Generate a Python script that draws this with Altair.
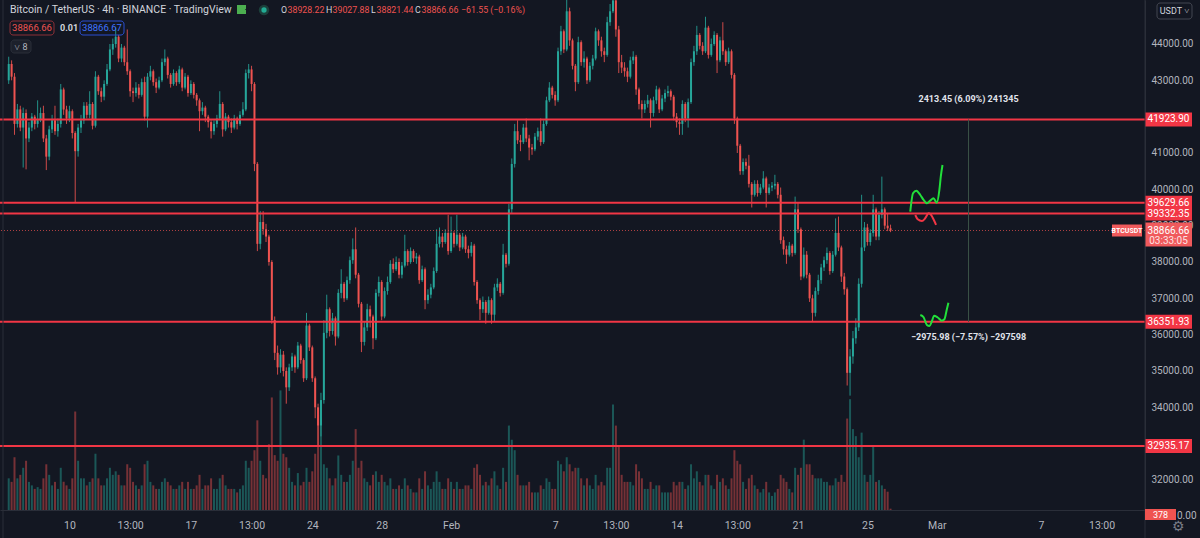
import altair as alt
import numpy as np
import pandas as pd

BG = "#131722"
UP = "#26a69a"
DOWN = "#ef5350"
LEVEL = "#f23645"
AXIS_TXT = "#b2b5be"
TXT = "#d1d4dc"
DIV = "#2a2e39"
FONT = "Roboto"

# ---------------- data (4h candles, BTCUSDT, Jan 6 12:00 -> Feb 26) ----------------
first_open = 43000
closes = [
    43450, 43100, 41800, 42200, 41700, 42100, 41400, 41700, 42000, 41800,
    41900, 42100, 41400, 40900, 41650, 41900, 41600, 41800, 42750, 42200,
    41950, 42150, 41550, 41050, 41700, 41900, 42300, 42050, 42350, 41750,
    43100, 42700, 42550, 42900, 43300, 43850, 44000, 44200, 43600, 43900,
    43500, 43250, 42700, 42650, 42800, 42600, 42950, 42000, 43100, 43250,
    42950, 42800, 43000, 43500, 43600, 43150, 42900, 43200, 42950, 43300,
    42800, 43100, 42650, 42900, 42600, 42450, 42150, 42250, 42000, 41850,
    41600, 41800, 41950, 42350, 41650, 42000, 41850, 41700, 41950, 41800,
    42050, 42200, 43200, 43300, 42900, 40700, 38500, 39100, 38900, 38700,
    38000, 36400, 35500, 35100, 35450, 35000, 34550, 35100, 35400, 35100,
    35700, 35300, 34800, 36250, 35650, 34800, 34000, 33500, 34200, 36050,
    36700, 36100, 36450, 35950, 37150, 37400, 37000, 37500, 38050, 38350,
    37650, 36850, 35800, 36200, 36700, 36500, 35900, 37150, 37450, 36500,
    37200, 37450, 37950, 37800, 38000, 37650, 37900, 38300, 38000, 38300,
    38100, 38150, 37500, 37800, 36950, 37100, 37300, 37750, 38500, 38700,
    38550, 38800, 38300, 38800, 38500, 38750, 38400, 38700, 38350, 38250,
    38450, 37450, 36950, 36700, 36900, 36600, 36950, 36550, 37300, 37400,
    37150, 38200, 37950, 39450, 40700, 41600, 41350, 41300, 41700, 41400,
    41150, 41100, 41450, 41600, 41300, 41800, 42450, 42800, 42600, 42450,
    43800, 44350, 43850, 44900, 44100, 43400, 42950, 44050, 43500, 43600,
    43000, 43400, 43600, 44350, 44100, 43800, 43700, 44600, 44900, 45200,
    44400, 43500, 43350, 43250, 43100, 43550, 43650, 42750, 42350, 42200,
    42350, 42450, 42100, 42450, 42750, 42200, 42500, 42650, 42700, 42550,
    42000, 41850, 41800, 42350, 41950, 42400, 43500, 43800, 44250, 43950,
    43800, 44450, 43700, 44000, 44250, 43550, 44100, 43800, 43500, 43800,
    43150, 41950, 41200, 40500, 40750, 40650, 40150, 39850, 40150, 39900,
    40050, 40300, 39900, 40050, 40100, 40150, 39850, 38600, 38350, 38200,
    38450, 38250, 39450, 38900, 37600, 38200, 37650, 37000, 36600, 37200,
    37500, 37850, 38050, 38250, 37750, 38200, 38800, 38400, 37600, 37250,
    34950, 35400, 35900, 36200, 37400, 38400, 38950, 38550, 38800, 39450,
    38700, 39300, 39450, 39000, 38928.22, 38866.66,
]
highs = [
    43650, 43550, 43200, 42350, 42300, 42250, 42200, 41850, 42100, 42050,
    42450, 42250, 42300, 41500, 41750, 42050, 42300, 41950, 42900, 42800,
    42300, 42300, 42200, 41600, 41800, 42050, 42400, 42400, 42700, 42400,
    43250, 43150, 42800, 43000, 43450, 44000, 44150, 44450, 44250, 44000,
    43950, 44400, 43300, 42800, 42950, 42900, 43050, 43100, 43200, 43400,
    43300, 43050, 43100, 43600, 43850, 43650, 43200, 43300, 43250, 43400,
    43350, 43200, 43150, 43000, 42950, 42650, 42500, 42400, 42300, 42050,
    41900, 41900, 42050, 42700, 42400, 42100, 42050, 41950, 42050, 42000,
    42150, 42400, 43300, 43450, 43400, 42950, 40750, 39400, 39400, 39050,
    38750, 38050, 36500, 35700, 35600, 35550, 35100, 35200, 35500, 35450,
    35800, 35750, 35350, 36600, 36300, 35700, 34850, 34100, 34400, 36400,
    37100, 36750, 36600, 36500, 37250, 37800, 37450, 37600, 38150, 38650,
    38950, 37700, 36900, 36350, 36850, 36800, 36550, 37250, 37600, 37500,
    37300, 37600, 38050, 38100, 38150, 38100, 38000, 38750, 38350, 38400,
    38350, 38250, 38200, 37900, 37850, 37250, 37400, 37850, 38900, 38950,
    38800, 38900, 39300, 39250, 38850, 39300, 38800, 38800, 38750, 38450,
    38550, 38500, 37500, 37000, 37050, 36950, 37050, 37000, 37400, 37550,
    37450, 38500, 38250, 39600, 40850, 41800, 41900, 41500, 41800, 41950,
    41500, 41250, 41550, 41700, 41950, 41900, 42550, 42950, 42850, 42700,
    43900, 44500, 44400, 45400, 45000, 44150, 43450, 44200, 44100, 43800,
    43650, 43500, 43700, 44450, 44400, 44200, 43900, 44750, 45100, 45800,
    45850, 44500, 43700, 43500, 43350, 43650, 43800, 43700, 42800, 42450,
    42450, 42600, 42500, 42550, 42850, 42800, 42600, 42750, 42850, 42750,
    42600, 42100, 41950, 42450, 42400, 42500, 43600, 43950, 44500, 44300,
    44050, 44750, 44500, 44150, 44350, 44300, 44200, 44600, 43850, 43900,
    43850, 43200, 42000, 41250, 40850, 40850, 40950, 40200, 40250, 40250,
    40150, 40500, 40350, 40150, 40200, 40400, 40200, 40050, 38700, 38450,
    38550, 38500, 39800, 39650, 38950, 38400, 38300, 37700, 37100, 37300,
    37650, 37950, 38150, 38400, 38300, 38300, 39200, 39250, 38450, 37700,
    37300, 35600, 36100, 36450, 37550, 39850, 39100, 39050, 38900, 39850,
    39500, 39400, 40350, 39500, 39350, 39027.88,
]
lows = [
    42900, 43000, 41500, 41700, 41600, 40600, 40550, 41300, 41600, 41650,
    41700, 41850, 41300, 40530, 40800, 41550, 41500, 41450, 41700, 42050,
    41800, 41850, 41400, 39650, 40900, 41550, 41800, 41950, 41950, 41650,
    41700, 42600, 42400, 42450, 42850, 43250, 43700, 43900, 43500, 43500,
    43400, 43150, 42550, 42400, 42550, 42500, 42550, 41900, 41700, 43000,
    42850, 42650, 42750, 42950, 43400, 43050, 42800, 42850, 42850, 42900,
    42700, 42750, 42550, 42600, 42500, 42300, 41600, 42050, 41850, 41700,
    41400, 41500, 41700, 41900, 41450, 41600, 41700, 41550, 41650, 41650,
    41750, 42000, 42150, 43050, 42700, 40500, 38300, 38350, 38750, 38550,
    37900, 36300, 35300, 34900, 34950, 34850, 34100, 34450, 35000, 34950,
    35050, 35200, 34700, 34750, 35550, 34700, 33700, 32935, 33200, 34100,
    35900, 35950, 36000, 35700, 35900, 37000, 36900, 36950, 37400, 37950,
    37550, 36750, 35520, 35700, 36100, 36200, 35600, 35850, 37050, 36400,
    36450, 37100, 37400, 37700, 37750, 37550, 37550, 37850, 37900, 37950,
    38000, 37950, 37400, 37450, 36700, 36850, 37000, 37250, 37700, 38400,
    38400, 38500, 38200, 38250, 38400, 38450, 38300, 38350, 38250, 38100,
    38150, 37350, 36850, 36400, 36600, 36300, 36550, 36300, 36350, 37200,
    37050, 37100, 37850, 37900, 39350, 40600, 41250, 41050, 41250, 41300,
    40800, 40950, 41050, 41350, 41200, 41250, 41750, 42400, 42500, 42300,
    42400, 43700, 43750, 43800, 43950, 43300, 42700, 42900, 43400, 43350,
    42900, 42950, 43300, 43550, 43950, 43650, 43500, 43650, 44500, 44850,
    44200, 43200, 43200, 43100, 42950, 43050, 43450, 42600, 42200, 41950,
    42100, 42250, 41700, 42000, 42350, 42100, 42150, 42400, 42550, 42450,
    41900, 41700, 41500, 41500, 41850, 41700, 42350, 43400, 43700, 43850,
    43700, 43750, 43600, 43650, 43950, 43200, 43500, 43700, 43400, 43450,
    43050, 41800, 41000, 40400, 40400, 40550, 40050, 39500, 39800, 39800,
    39850, 40000, 39500, 39850, 39950, 40000, 39750, 38500, 38200, 37950,
    38150, 38150, 38200, 38800, 37500, 37550, 37550, 36900, 36350, 36500,
    37100, 37400, 37750, 37950, 37650, 37700, 38150, 38300, 37450, 37100,
    34600, 34322, 35200, 35750, 36100, 37300, 38300, 38450, 38450, 38700,
    38600, 38600, 39200, 38900, 38850, 38821.44,
]
volumes = [
    9000, 8000, 15000, 9000, 10000, 12000, 14000, 8000, 7000, 6000,
    6500, 6000, 9000, 13000, 10000, 7000, 8000, 6000, 12000, 8000,
    7000, 6000, 9000, 28000, 14000, 9000, 9000, 7000, 8000, 9000,
    16000, 9000, 7000, 7000, 9000, 12000, 10000, 11000, 10000, 7000,
    7000, 13000, 12000, 8000, 7000, 6000, 7000, 13000, 14000, 8000,
    7000, 6000, 6000, 8000, 9000, 8000, 7000, 6000, 6000, 7000,
    8000, 6000, 8000, 6000, 6000, 7000, 10000, 6000, 7000, 7000,
    9000, 6000, 6000, 9000, 10000, 7000, 6000, 6000, 6000, 5000,
    6000, 7000, 14000, 12000, 14000, 17000, 25500, 14000, 10000, 9000,
    18700, 32000, 15600, 14000, 34000, 16000, 15000, 12000, 8000, 7000,
    10500, 7000, 8000, 12000, 8000, 11000, 16000, 27000, 26000, 13000,
    12000, 9000, 7000, 9000, 15500, 10000, 8000, 8000, 10000, 14000,
    23000, 12000, 14000, 9000, 8000, 7000, 10000, 11000, 8000, 10000,
    8000, 7000, 9000, 6000, 6000, 7000, 6000, 9000, 7000, 6000,
    5000, 5000, 9000, 6000, 11000, 7000, 6000, 8000, 11000, 8000,
    6000, 6000, 9000, 8000, 6000, 8000, 6000, 6000, 7000, 7000,
    6000, 12000, 13000, 10000, 7000, 8000, 7000, 9000, 11000, 7000,
    6000, 12000, 8000, 24000, 20000, 17000, 10000, 7000, 7000, 7000,
    8000, 5000, 5000, 5000, 7000, 6000, 9000, 8000, 6000, 6000,
    14000, 13000, 11000, 15000, 13000, 11000, 12000, 12000, 9000, 7000,
    9000, 7000, 6000, 10000, 7000, 8000, 7000, 12000, 12000, 30000,
    24000, 18000, 10000, 8000, 8000, 8000, 7000, 13000, 11000, 9000,
    6000, 6000, 8000, 6000, 7000, 7000, 5000, 5000, 5000, 5000,
    8000, 7000, 8000, 8000, 6000, 7000, 13000, 9000, 11000, 8000,
    7000, 10000, 10000, 7000, 6000, 10000, 8000, 9000, 7000, 6000,
    9000, 17000, 14000, 13000, 8000, 6000, 9000, 10000, 7000, 6000,
    5000, 6000, 8000, 5000, 4000, 5000, 6000, 10000, 9000, 8000,
    6000, 5000, 12000, 10000, 12000, 20000, 13000, 13000, 10000, 9000,
    9000, 9000, 8000, 8000, 7000, 7000, 9000, 8000, 10000, 8000,
    26000, 31500, 23000, 21000, 15000, 22000, 10000, 8000, 10000, 18000,
    8000, 8500, 7000, 6000, 5200, 378,
]

levels = [41923.90, 39629.66, 39332.35, 36351.93, 32935.17]
last_price = 38866.66

tick_days = [9, 12.5, 16, 19.5, 23, 27, 31, 37, 40.5, 44, 47.5, 51, 55, 59, 65, 68.5]
tick_labels = ["10", "13:00", "17", "13:00", "24", "28", "Feb", "7", "13:00",
               "14", "13:00", "21", "25", "Mar", "7", "13:00"]
# 42000, 33000 and 31000 are hidden behind price labels in the original
price_ticks = [32000, 34000, 35000, 36000, 37000, 38000, 39000, 40000, 41000, 43000, 44000]

# hand-drawn squiggles (day, price)
sq_up_t = [57.47, 57.63, 57.82, 58.05, 58.24, 58.43, 58.62, 58.81, 59.00, 59.15, 59.23, 59.33]
sq_up_p = [39385, 39891, 39963, 39844, 39707, 39616, 39688, 39754, 39633, 39982, 40348, 40670]
sq_red_t = [57.76, 57.90, 58.14, 58.33, 58.53, 58.67, 58.81, 58.96]
sq_red_p = [39294, 39176, 39129, 39203, 39341, 39294, 39176, 39019]
sq_lo_t = [58.05, 58.24, 58.43, 58.58, 58.71, 58.85, 59.04, 59.29, 59.44, 59.57, 59.67]
sq_lo_p = [36542, 36479, 36267, 36239, 36358, 36523, 36479, 36385, 36423, 36680, 36881]

measure_day = 60.83
measure_texts = ["2413.45 (6.09%) 241345", "\u22122975.98 (\u22127.57%) \u2212297598"]
measure_text_prices = [42486, 35937]

# ---------------- layout ----------------
W, H = 1145, 510
PX_PER_DAY = 17.5
XDOM = [9 - 65 / PX_PER_DAY, 9 + (W - 65) / PX_PER_DAY]
YDOM = [31174, 45211]
U = (YDOM[1] - YDOM[0]) / H  # price units per pixel

n = len(closes)
opens = [first_open] + closes[:-1]
df = pd.DataFrame({
    "t": 5.5 + np.arange(n) / 6.0,
    "o": opens, "c": closes, "v": volumes,
})
df["hi"] = np.maximum.reduce([np.array(highs, float), df["o"].values, df["c"].values])
df["lo"] = np.minimum.reduce([np.array(lows, float), df["o"].values, df["c"].values])
df["dir"] = np.where(df["c"] >= df["o"], "up", "down")

label_expr = "''"
for v, lab in reversed(list(zip(tick_days, tick_labels))):
    label_expr = f"datum.value == {v} ? '{lab}' : {label_expr}"

XSCALE = alt.Scale(domain=XDOM, nice=False, zero=False)
XAXIS = alt.Axis(values=tick_days, labelExpr=label_expr, title=None, grid=False,
                 ticks=False, tickSize=0, domainColor=DIV, labelColor=AXIS_TXT,
                 labelFontSize=10.5, labelFont=FONT, labelPadding=10,
                 labelOverlap=False, labelFlush=False)
YSCALE = alt.Scale(domain=YDOM, nice=False, zero=False)
YAXIS = alt.Axis(orient="right", values=price_ticks, format=".2f", title=None,
                 grid=False, ticks=False, tickSize=0, domainColor=DIV,
                 labelColor=AXIS_TXT, labelFontSize=10, labelFont=FONT,
                 labelPadding=6)


def xq(field="t"):
    return alt.X(f"{field}:Q", scale=XSCALE, axis=XAXIS)


def yq(field):
    return alt.Y(f"{field}:Q", scale=YSCALE, axis=YAXIS)


COLOR = alt.Color("dir:N", scale=alt.Scale(domain=["up", "down"], range=[UP, DOWN]), legend=None)
ONE = pd.DataFrame({"a": [0]})


def ptext(txt, x, y, color=TXT, size=10.5, weight="normal", align="left"):
    return alt.Chart(ONE).mark_text(text=txt, color=color, fontSize=size, fontWeight=weight,
                                    align=align, baseline="middle", font=FONT).encode(
        x=alt.value(x), y=alt.value(y))


def prect(x1, y1, x2, y2, fill="transparent", stroke="transparent", radius=0, sw=1):
    return alt.Chart(ONE).mark_rect(fill=fill, stroke=stroke, cornerRadius=radius,
                                    strokeWidth=sw).encode(
        x=alt.value(x1), x2=alt.value(x2), y=alt.value(y1), y2=alt.value(y2))


def prule(x1, y1, x2, y2, color=DIV, sw=1):
    return alt.Chart(ONE).mark_rule(color=color, strokeWidth=sw).encode(
        x=alt.value(x1), x2=alt.value(x2), y=alt.value(y1), y2=alt.value(y2))


# volume
volume = alt.Chart(df).mark_bar(size=2, opacity=0.45).encode(
    x=xq(), y=alt.Y("v:Q", scale=alt.Scale(domain=[0, 145000], nice=False), axis=None),
    color=COLOR)

wicks = alt.Chart(df).mark_rule(strokeWidth=1, opacity=0.85).encode(
    x=xq(), y=yq("lo"), y2="hi", color=COLOR)
bodies = alt.Chart(df).mark_bar(size=2).encode(x=xq(), y=yq("o"), y2="c", color=COLOR)

lev_df = pd.DataFrame({"level": levels})
lev_df["label"] = [f"{v:.2f}" for v in levels]
lev_df["top"] = lev_df["level"] + 7 * U
lev_df["bot"] = lev_df["level"] - 7 * U
level_lines = alt.Chart(lev_df).mark_rule(color=LEVEL, strokeWidth=2).encode(y=yq("level"))
level_boxes = alt.Chart(lev_df).mark_rect(color=LEVEL).encode(
    x=alt.value(W), x2=alt.value(W + 47), y=yq("top"), y2="bot")
level_txt = alt.Chart(lev_df).mark_text(color="white", fontSize=10, font=FONT,
                                        align="center", baseline="middle").encode(
    x=alt.value(W + 23.5), y=yq("level"), text="label:N")

cur_df = pd.DataFrame({"level": [last_price], "top": [last_price + 8 * U],
                       "bot": [last_price - 16 * U], "t2": [last_price - 10.5 * U],
                       "btop": [last_price + 6 * U], "bbot": [last_price - 6 * U]})
cur_line = alt.Chart(cur_df).mark_rule(color=DOWN, strokeDash=[1, 2], opacity=0.7).encode(
    y=yq("level"))
cur_box = alt.Chart(cur_df).mark_rect(color="#f05a5c").encode(
    x=alt.value(W), x2=alt.value(W + 47), y=yq("top"), y2="bot")
cur_txt1 = alt.Chart(cur_df).mark_text(text=f"{last_price:.2f}", color="white", fontSize=10,
                                       font=FONT, align="center", baseline="middle").encode(
    x=alt.value(W + 23.5), y=yq("level"))
cur_txt2 = alt.Chart(cur_df).mark_text(text="03:33:05", color="#fde2e2", fontSize=10,
                                       font=FONT, align="center", baseline="middle").encode(
    x=alt.value(W + 23.5), y=yq("t2"))
sym_box = alt.Chart(cur_df).mark_rect(color="#f05a5c").encode(
    x=alt.value(W - 33), x2=alt.value(W - 3), y=yq("btop"), y2="bbot")
sym_txt = alt.Chart(cur_df).mark_text(text="BTCUSDT", color="white", fontSize=7,
                                      fontWeight="bold", font=FONT, align="center",
                                      baseline="middle").encode(
    x=alt.value(W - 18), y=yq("level"))

# measurement tool
meas_df = pd.DataFrame({"t": [measure_day], "p1": [levels[0]], "p2": [levels[3]]})
meas_line = alt.Chart(meas_df).mark_rule(color="#3b5347", strokeWidth=1).encode(
    x=xq(), y=yq("p1"), y2="p2")
meas_tdf = pd.DataFrame({"t": [measure_day] * 2, "p": measure_text_prices, "label": measure_texts})
meas_txt = alt.Chart(meas_tdf).mark_text(color="#e0e3eb", fontSize=9, fontWeight="bold",
                                         font=FONT, align="center", baseline="middle").encode(
    x=xq(), y=yq("p"), text="label:N")

# squiggles
sq_green = pd.DataFrame({
    "t": sq_up_t + sq_lo_t, "p": sq_up_p + sq_lo_p,
    "k": list(range(len(sq_up_t))) + list(range(len(sq_lo_t))),
    "g": ["a"] * len(sq_up_t) + ["b"] * len(sq_lo_t)})
sq_r = pd.DataFrame({"t": sq_red_t, "p": sq_red_p, "k": list(range(len(sq_red_t)))})
green_lines = alt.Chart(sq_green).mark_line(color="#22e03a", strokeWidth=2,
                                            interpolate="monotone").encode(
    x=xq(), y=yq("p"), order="k:Q", detail="g:N")
red_lines = alt.Chart(sq_r).mark_line(color=LEVEL, strokeWidth=2, interpolate="monotone").encode(
    x=xq(), y=yq("p"), order="k:Q")

# header / chrome
OH = 8.8
header = [
    ptext("Bitcoin / TetherUS \u00b7 4h \u00b7 BINANCE \u00b7 TradingView", 10, 10, TXT, 10.5),
    prect(237, 5, 246, 14, fill="#4caf50"),
    alt.Chart(ONE).mark_point(shape="triangle-left", filled=True, color=BG, size=14, opacity=1).encode(
        x=alt.value(246.5), y=alt.value(9.5)),
    alt.Chart(ONE).mark_point(shape="circle", filled=True, color="#1c3f3b", size=110, opacity=1).encode(
        x=alt.value(264), y=alt.value(10)),
    alt.Chart(ONE).mark_point(shape="circle", filled=True, color="#22ab94", size=28, opacity=1).encode(
        x=alt.value(264), y=alt.value(10)),
    ptext("O", 281, 10, TXT, OH), ptext("38928.22", 287.5, 10, DOWN, OH),
    ptext("H", 326, 10, TXT, OH), ptext("39027.88", 332.5, 10, DOWN, OH),
    ptext("L", 371, 10, TXT, OH), ptext("38821.44", 376.5, 10, DOWN, OH),
    ptext("C", 415, 10, TXT, OH), ptext("38866.66", 421.5, 10, DOWN, OH),
    ptext("\u221261.55 (\u22120.16%)", 461, 10, DOWN, OH),
    prect(10, 21, 54, 35, stroke="#8c3037", radius=3),
    ptext("38866.66", 32, 28, DOWN, 9.5, align="center"),
    ptext("0.01", 60, 28, TXT, 9, "bold"),
    prect(80, 21, 124, 35, stroke="#2b4fd1", radius=3),
    ptext("38866.67", 102, 28, "#3f73ff", 9.5, align="center"),
    prect(11, 40, 31, 53, fill="#1c202b", stroke=DIV, radius=3),
    ptext("\u02c5", 17, 48, AXIS_TXT, 10, align="center"),
    ptext("8", 25, 47, AXIS_TXT, 9, align="center"),
    prect(1157, 3, 1192, 19, fill=BG, stroke="#434651", radius=3),
    ptext("USDT \u02c5", 1174.5, 11, TXT, 9, align="center"),
    prule(W, 0, W, 538, DIV),
    prule(3, 0, 3, 538, DIV),
    prect(W, 509, W + 31, 520, fill=DOWN),
    ptext("378", W + 15.5, 514.5, "white", 9, align="center"),
    ptext("0.00", W + 32, 515.5, AXIS_TXT, 10),
    ptext("\u2699", 1178, 527, "#787b86", 14, align="center"),
]

price_group = alt.layer(
    wicks, bodies, level_lines, cur_line, meas_line, green_lines, red_lines,
    level_boxes, level_txt, cur_box, cur_txt1, cur_txt2, sym_box, sym_txt, meas_txt,
    *header,
)

chart = alt.layer(volume, price_group).resolve_scale(y="independent").properties(
    width=W, height=H, background=BG,
    padding={"left": 0, "top": 0, "right": 1200 - W, "bottom": 538 - H},
    autosize=alt.AutoSizeParams(type="none"),
).configure_view(stroke=None)

chart.save("out.html", embed_options={"renderer": "svg", "actions": False})
